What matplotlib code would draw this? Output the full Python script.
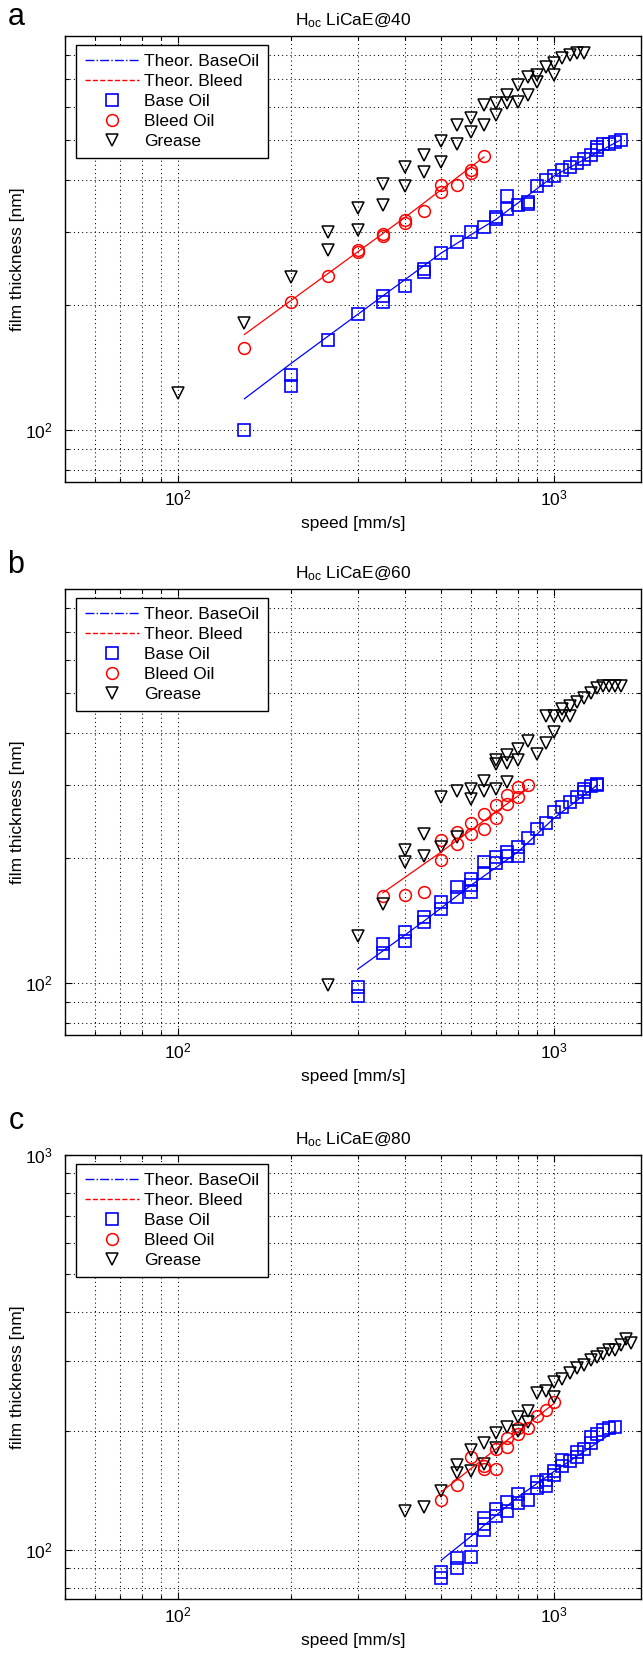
import matplotlib
matplotlib.use('Agg')
import math
import matplotlib.pyplot as plt
from matplotlib.lines import Line2D
from matplotlib.ticker import FixedLocator, NullFormatter, FuncFormatter

plt.rcParams['font.family'] = ['Liberation Sans', 'DejaVu Sans']

# ---------------- data: panel a (40 C) ----------------
a_base_x = [150, 200, 200, 250, 300, 350, 350, 400, 450, 450, 500, 550, 600, 650, 700, 700,
            750, 750, 800, 850, 850, 900, 950, 1000, 1050, 1100, 1150, 1200, 1250, 1300, 1300,
            1350, 1400, 1450, 1500]
a_base_y = [100, 136, 128, 165, 190, 210, 204, 222, 245, 240, 267, 284, 300, 309, 326, 322,
            341, 366, 348, 355, 350, 387, 400, 410, 423, 431, 439, 449, 460, 473, 481,
            488, 490, 495, 500]
a_bleed_x = [150, 200, 250, 300, 300, 350, 350, 400, 400, 450, 500, 500, 550, 600, 600, 650]
a_bleed_y = [158, 203, 235, 269, 272, 293, 296, 316, 321, 337, 375, 389, 389, 416, 423, 457]
a_grease_x = [100, 150, 200, 250, 250, 300, 300, 350, 350, 400, 400, 450, 450, 500, 500,
              550, 550, 600, 600, 650, 650, 700, 700, 750, 750, 800, 800, 850, 850, 900, 900,
              950, 1000, 1000, 1050, 1100, 1150, 1200]
a_grease_y = [123, 181, 234, 300, 272, 342, 304, 391, 348, 431, 387, 460, 419, 497, 443,
              543, 488, 564, 524, 607, 543, 613, 574, 641, 613, 678, 618, 710, 641, 716, 690,
              750, 766, 716, 786, 801, 808, 808]
a_theo_base_x = [150, 200, 300, 500, 700, 1000, 1500]
a_theo_base_y = [119, 145, 190, 267, 322, 410, 500]
a_theo_bleed_x = [150, 400, 650]
a_theo_bleed_y = [170, 325, 455]

# ---------------- data: panel b (60 C) ----------------
b_base_x = [300, 300, 350, 350, 400, 400, 450, 450, 500, 500, 550, 550, 600, 600, 600, 650, 650,
            700, 700, 750, 750, 800, 800, 850, 900, 950, 1000, 1050, 1100, 1150, 1200, 1200,
            1250, 1300, 1300]
b_base_y = [98, 93, 124, 118, 133, 126, 144, 140, 157, 151, 170, 161, 178, 172, 166, 196, 184,
            201, 195, 207, 202, 213, 202, 224, 235, 243, 258, 266, 273, 281, 288, 294,
            298, 300, 302]
b_bleed_x = [350, 400, 450, 500, 500, 550, 550, 600, 600, 650, 650, 700, 700, 750, 750, 800, 800, 850]
b_bleed_y = [162, 163, 166, 198, 221, 216, 231, 229, 243, 235, 256, 250, 268, 270, 284, 281, 297, 300]
b_grease_x = [250, 300, 350, 400, 400, 450, 450, 500, 500, 550, 550, 600, 600, 650, 650, 700, 700,
              700, 750, 750, 750, 800, 800, 850, 900, 950, 1000, 950, 1000, 1050, 1100, 1050,
              1100, 1150, 1200, 1250, 1300, 1350, 1400, 1450, 1500]
b_grease_y = [99, 130, 155, 209, 196, 229, 202, 281, 213, 291, 225, 294, 278, 307, 290, 338, 294,
              345, 305, 354, 339, 345, 367, 384, 357, 378, 402, 439, 441, 441, 441, 458,
              466, 475, 487, 501, 515, 519, 519, 519, 519]
b_theo_base_x = [300, 450, 600, 800, 1000, 1300]
b_theo_base_y = [108, 141, 172, 207, 250, 300]
b_theo_bleed_x = [350, 500, 850]
b_theo_bleed_y = [165, 207, 294]

# ---------------- data: panel c (80 C) ----------------
c_base_x = [500, 500, 550, 550, 600, 600, 650, 650, 650, 700, 700, 750, 750, 800, 800, 850, 900,
            900, 950, 950, 1000, 1000, 1050, 1050, 1100, 1150, 1150, 1200, 1250, 1250, 1300,
            1350, 1400, 1450]
c_base_y = [88, 85, 95, 90, 106, 96, 120, 116, 112, 127, 122, 132, 125, 138, 131, 134, 148,
            143, 150, 145, 158, 155, 163, 169, 168, 172, 177, 180, 186, 193, 196,
            201, 203, 204]
c_bleed_x = [500, 550, 600, 650, 650, 700, 700, 750, 750, 800, 800, 850, 900, 950, 1000]
c_bleed_y = [134, 146, 172, 163, 160, 160, 180, 182, 192, 196, 203, 203, 218, 226, 237]
c_grease_x = [400, 450, 500, 550, 550, 600, 600, 650, 650, 700, 700, 750, 800, 800, 850, 850,
              900, 950, 1000, 1000, 1050, 1100, 1150, 1200, 1250, 1300, 1350, 1400, 1450,
              1500, 1550, 1600]
c_grease_y = [125, 128, 141, 156, 164, 158, 179, 165, 186, 181, 197, 205, 217, 200, 225, 211,
              249, 253, 266, 244, 271, 280, 289, 293, 302, 308, 314, 320, 320,
              330, 341, 333]
c_theo_base_x = [500, 600, 800, 1000, 1450]
c_theo_base_y = [94, 108, 136, 158, 200]
c_theo_bleed_x = [500, 1000]
c_theo_bleed_y = [140, 235]

titles = ['40', '60', '80']
letters = ['a', 'b', 'c']
ylims = [(75, 890), (75, 890), (75, 1000)]
xlim = (50, 1700)
legend_labels = ['Theor. BaseOil', 'Theor. Bleed', 'Base Oil', 'Bleed Oil', 'Grease']

# ---------------- layout (pixels) ----------------
W, H = 643, 1660
fig = plt.figure(figsize=(W / 100, H / 100), dpi=100)
LEFT, RIGHT = 65, 641
tops = [36, 589, 1155]
bottoms = [482, 1035, 1599]
letter_y = [17, 565, 1121]
FS = 12.5

SQ = dict(ls='none', marker='s', ms=8.0, mfc='none', mec='blue', mew=1.2)
CI = dict(ls='none', marker='o', ms=8.5, mfc='none', mec='red', mew=1.1)
TR = dict(ls='none', marker='v', ms=9.0, mfc='none', mec='black', mew=1.1)

panels = [
    (a_base_x, a_base_y, a_bleed_x, a_bleed_y, a_grease_x, a_grease_y,
     a_theo_base_x, a_theo_base_y, a_theo_bleed_x, a_theo_bleed_y),
    (b_base_x, b_base_y, b_bleed_x, b_bleed_y, b_grease_x, b_grease_y,
     b_theo_base_x, b_theo_base_y, b_theo_bleed_x, b_theo_bleed_y),
    (c_base_x, c_base_y, c_bleed_x, c_bleed_y, c_grease_x, c_grease_y,
     c_theo_base_x, c_theo_base_y, c_theo_bleed_x, c_theo_bleed_y),
]


def fmt(v, pos):
    e = int(round(math.log10(v)))
    return r'$\mathregular{10^{%d}}$' % e


for i, p in enumerate(panels):
    bx, by, rx, ry, gx, gy, tbx, tby, trx, try_ = p
    top, bot = tops[i], bottoms[i]
    h = bot - top
    ax = fig.add_axes([LEFT / W, 1 - bot / H, (RIGHT - LEFT) / W, h / H])
    ax.set_xscale('log')
    ax.set_yscale('log')
    ax.set_xlim(*xlim)
    ax.set_ylim(*ylims[i])

    ax.plot(bx, by, zorder=3, **SQ)
    ax.plot(rx, ry, zorder=3, **CI)
    ax.plot(gx, gy, zorder=3, **TR)
    ax.plot(tbx, tby, ls='-', color='blue', lw=0.9, zorder=4)
    ax.plot(trx, try_, ls='-', color='red', lw=0.9, zorder=4)

    ax.xaxis.set_major_locator(FixedLocator([100, 1000]))
    ax.xaxis.set_minor_locator(FixedLocator([50, 60, 70, 80, 90, 200, 300, 400, 500, 600, 700, 800, 900]))
    ax.yaxis.set_major_locator(FixedLocator([100, 1000]))
    ax.yaxis.set_minor_locator(FixedLocator([80, 90, 200, 300, 400, 500, 600, 700, 800, 900]))
    ax.xaxis.set_major_formatter(FuncFormatter(fmt))
    ax.yaxis.set_major_formatter(FuncFormatter(fmt))
    ax.xaxis.set_minor_formatter(NullFormatter())
    ax.yaxis.set_minor_formatter(NullFormatter())
    ax.tick_params(which='both', direction='in', top=True, right=True, labelsize=FS, width=0.8)
    ax.tick_params(which='major', length=5)
    ax.tick_params(which='minor', length=3)
    ax.tick_params(axis='x', which='major', pad=5)
    ax.tick_params(axis='y', which='major', pad=9)
    ax.grid(True, which='both', ls=(0, (1, 3)), color='black', lw=0.75)
    for s in ax.spines.values():
        s.set_linewidth(1.0)

    ax.set_xlabel('speed [mm/s]', fontsize=FS)
    ax.set_ylabel('film thickness [nm]', fontsize=FS)
    ax.xaxis.set_label_coords(0.5, -34 / h)
    ax.yaxis.set_label_coords(-40 / (RIGHT - LEFT), 0.5)

    ax.text(0.5, 1 + 11 / h, r'$\mathregular{H_{oc}}$ LiCaE@' + titles[i],
            transform=ax.transAxes, ha='center', va='baseline', fontsize=FS)
    fig.text(16 / W, 1 - letter_y[i] / H, letters[i], fontsize=22, ha='center', va='center')

    handles = [
        Line2D([], [], color='blue', ls='-.', lw=1.0),
        Line2D([], [], color='red', ls='--', lw=1.0),
        Line2D([], [], **SQ),
        Line2D([], [], **CI),
        Line2D([], [], **TR),
    ]
    leg = ax.legend(handles, legend_labels, loc='upper left',
                    bbox_to_anchor=((76 - LEFT) / (RIGHT - LEFT), 1 - 9 / h),
                    borderaxespad=0, fontsize=FS, handlelength=3.1, handletextpad=0.3,
                    labelspacing=0.28, borderpad=0.5, fancybox=False, framealpha=1,
                    edgecolor='black')
    leg.get_frame().set_linewidth(1.0)
    leg.set_zorder(10)

fig.savefig('out.png', dpi=100)
